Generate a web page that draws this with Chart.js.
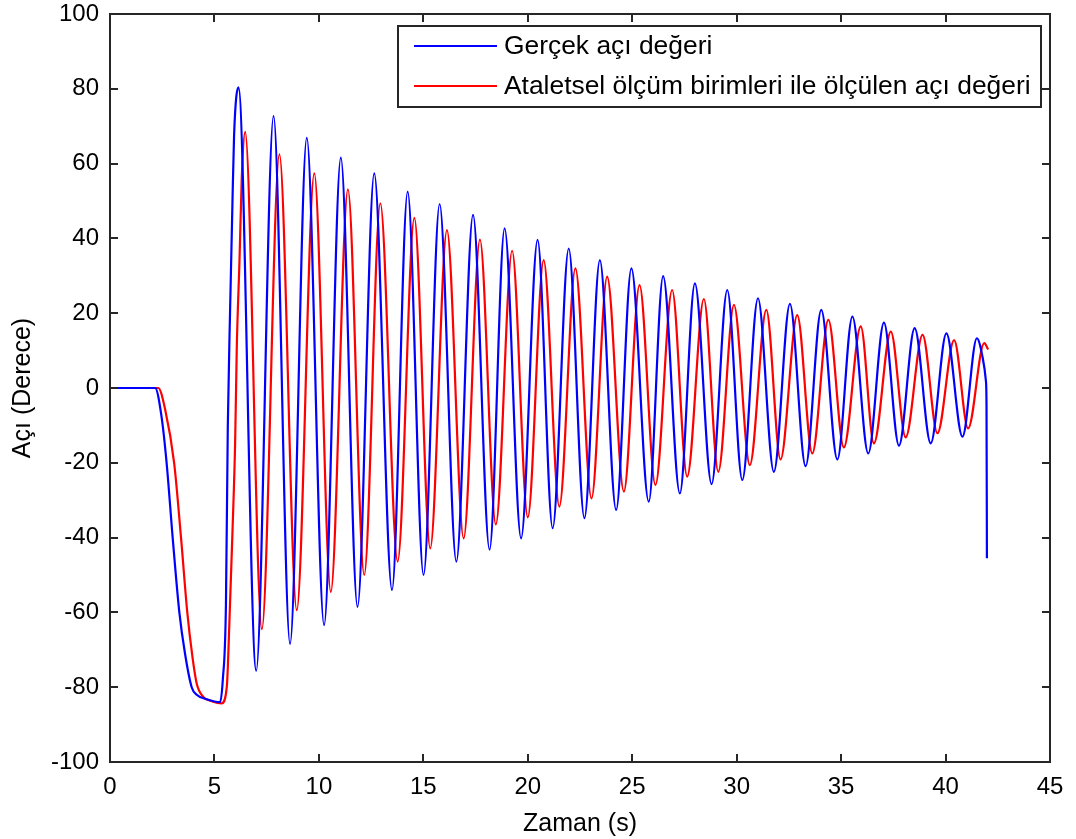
<!DOCTYPE html>
<html>
<head>
<meta charset="utf-8">
<script src="https://cdn.jsdelivr.net/npm/chart.js@4.4.1/dist/chart.umd.min.js"></script>
<style>
  html, body { margin: 0; padding: 0; background: #fff; }
  #wrap { width: 1076px; height: 839px; }
</style>
</head>
<body>
<div id="wrap"><canvas id="c" width="1076" height="839"></canvas></div>
<script>
// ---- Data ----
const seriesLabels = ["Gerçek açı değeri", "Ataletsel ölçüm birimleri ile ölçülen açı değeri"];
const xTickValues = [0, 5, 10, 15, 20, 25, 30, 35, 40, 45];
const yTickValues = [-100, -80, -60, -40, -20, 0, 20, 40, 60, 80, 100];

// Blue: "Gerçek açı değeri" (time in s, angle in degrees)
const blueTime = [0, 2.16, 2.45, 2.71, 3.0, 3.32, 3.59, 3.91, 4.15, 4.63, 5.27,
  5.4, 5.55, 5.64, 5.75, 5.86, 5.94, 6.15,
  7.0, 7.83, 8.62, 9.42, 10.25, 11.05, 11.85, 12.65, 13.5, 14.25, 15.01, 15.78,
  16.58, 17.38, 18.17, 18.89, 19.68, 20.47, 21.19, 21.96, 22.71, 23.45, 24.23,
  24.96, 25.79, 26.48, 27.28, 28.0, 28.8, 29.55, 30.27, 31.02, 31.78, 32.55,
  33.3, 34.05, 34.82, 35.54, 36.3, 37.05, 37.77, 38.52, 39.29, 40.04, 40.81,
  41.5, 41.78, 41.93, 41.96, 41.98];
const blueAngle = [0, 0, -7, -20, -40, -60, -71, -80, -82, -83.2, -84,
  -78, -58, -10, 21, 49, 67.6, 80.4,
  -75.6, 72.7, -68.4, 66.9, -63.4, 61.6, -58.5, 57.4, -54.0, 52.5, -50.0, 49.2,
  -46.4, 46.3, -43.2, 42.7, -40.2, 39.6, -37.5, 37.3, -34.8, 34.2, -32.6,
  32.0, -30.4, 29.9, -28.2, 28.0, -25.7, 26.2, -24.6, 24.0, -22.4, 22.5,
  -20.9, 20.9, -19.1, 19.1, -17.5, 17.5, -15.4, 16.0, -14.8, 14.6, -13.0,
  13.3, 8, 2, -4, -45.5];

// Red: "Ataletsel ölçüm birimleri ile ölçülen açı değeri"
const redTime = [0, 2.31, 2.65, 3.07, 3.40, 3.70, 3.95, 4.15, 4.45, 4.9, 5.35,
  5.59, 5.72, 5.86, 5.99, 6.07, 6.2, 6.31, 6.47,
  7.27, 8.11, 8.94, 9.78, 10.57, 11.39, 12.17, 12.94, 13.77, 14.57, 15.33,
  16.13, 16.93, 17.71, 18.47, 19.25, 20.0, 20.76, 21.51, 22.28, 23.05, 23.8,
  24.6, 25.35, 26.11, 26.91, 27.63, 28.43, 29.12, 29.87, 30.63, 31.42, 32.1,
  32.9, 33.62, 34.39, 35.13, 35.94, 36.57, 37.38, 38.09, 38.9, 39.61, 40.41,
  41.08, 41.85, 42.04];
const redAngle = [0, 0, -6, -20, -40, -60, -72, -79, -82.5, -83.8, -84.3,
  -80, -62, -39, -14.7, 11, 34.2, 56.5, 68.5,
  -64.5, 62.5, -59.4, 57.4, -54.5, 53.1, -50.0, 49.4, -46.4, 45.5, -42.9,
  42.2, -40.2, 39.7, -36.5, 36.7, -34.6, 34.2, -31.7, 32.0, -29.5, 29.8,
  -27.7, 27.5, -25.9, 26.2, -23.7, 23.8, -22.4, 22.2, -20.6, 20.9, -19.1,
  19.5, -17.5, 18.2, -15.9, 16.5, -14.8, 15.1, -13.2, 14.2, -12.1, 12.8,
  -10.8, 12.0, 10.3];

const xTitle = "Zaman (s)";
const yTitle = "Açı (Derece)";

// ---- Chart ----
const FONT = "'Liberation Sans', Arial, Helvetica, sans-serif";
const FS_TICK = 24;
const FS_TITLE = 25;
const FS_LEG = 26.4;
const pts = (t, v) => t.map((x, i) => ({ x: x, y: v[i] }));

const frameAndTicks = {
  id: 'frameAndTicks',
  afterDatasetsDraw(chart) {
    const { ctx, chartArea: a, scales } = chart;
    ctx.save();
    ctx.strokeStyle = '#262626';
    ctx.lineWidth = 2;
    ctx.strokeRect(a.left, a.top, a.right - a.left, a.bottom - a.top);
    const L = 8;
    ctx.beginPath();
    scales.x.ticks.forEach(t => {
      const p = Math.round(scales.x.getPixelForValue(t.value));
      ctx.moveTo(p, a.bottom); ctx.lineTo(p, a.bottom - L);
      ctx.moveTo(p, a.top); ctx.lineTo(p, a.top + L);
    });
    scales.y.ticks.forEach(t => {
      const p = Math.round(scales.y.getPixelForValue(t.value));
      ctx.moveTo(a.left, p); ctx.lineTo(a.left + L, p);
      ctx.moveTo(a.right, p); ctx.lineTo(a.right - L, p);
    });
    ctx.stroke();

    // legend box inside the plot (top right)
    const bx = 398, by = 26, bw = 643, bh = 81;
    ctx.fillStyle = '#fff';
    ctx.fillRect(bx, by, bw, bh);
    ctx.strokeRect(bx, by, bw, bh);
    ctx.font = FS_LEG + 'px ' + FONT;
    ctx.textBaseline = 'middle';
    ctx.textAlign = 'left';
    const rows = [46, 86];
    chart.data.datasets.forEach((ds, i) => {
      ctx.strokeStyle = ds.borderColor;
      ctx.lineWidth = 2;
      ctx.beginPath();
      ctx.moveTo(414, rows[i]); ctx.lineTo(497, rows[i]);
      ctx.stroke();
      ctx.fillStyle = '#000';
      ctx.fillText(ds.label, 504, rows[i] + 1);
    });
    ctx.restore();
  }
};

new Chart(document.getElementById('c'), {
  type: 'line',
  data: {
    datasets: [
      { label: seriesLabels[0], data: pts(blueTime, blueAngle), borderColor: '#0000ff',
        borderWidth: 2.2, pointRadius: 0, fill: false, cubicInterpolationMode: 'monotone' },
      { label: seriesLabels[1], data: pts(redTime, redAngle), borderColor: '#ff0000',
        borderWidth: 2.2, pointRadius: 0, fill: false, cubicInterpolationMode: 'monotone' }
    ]
  },
  options: {
    responsive: false,
    animation: false,
    events: [],
    layout: { padding: { left: 0, right: 26, top: 14, bottom: 0 } },
    plugins: { legend: { display: false }, tooltip: { enabled: false } },
    scales: {
      x: {
        type: 'linear', min: 0, max: 45,
        afterBuildTicks: s => { s.ticks = xTickValues.map(v => ({ value: v })); },
        afterFit: s => { s.height = 77; },
        grid: { display: false }, border: { display: false },
        ticks: { color: '#000', font: { family: FONT, size: FS_TICK }, padding: 3, maxRotation: 0 },
        title: { display: true, text: xTitle, color: '#000', font: { family: FONT, size: FS_TITLE }, padding: { top: 0, bottom: 0 } }
      },
      y: {
        type: 'linear', min: -100, max: 100,
        afterBuildTicks: s => { s.ticks = yTickValues.map(v => ({ value: v })); },
        afterFit: s => { s.width = 110; s.paddingTop = 0; s.paddingBottom = 0; },
        grid: { display: false }, border: { display: false },
        ticks: { color: '#000', font: { family: FONT, size: FS_TICK }, padding: 3 },
        title: { display: true, text: yTitle, color: '#000', font: { family: FONT, size: FS_TITLE }, padding: { top: 8, bottom: 0 } }
      }
    }
  },
  plugins: [frameAndTicks]
});
</script>
</body>
</html>
